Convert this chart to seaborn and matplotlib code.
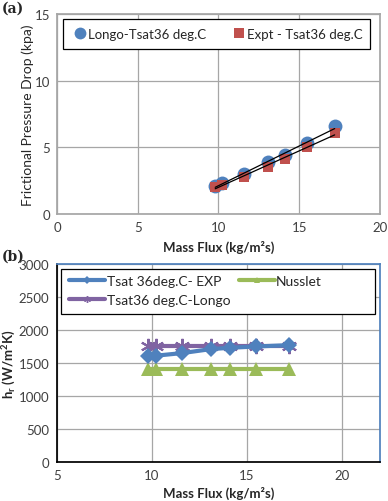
import numpy as np
import pandas as pd
import seaborn as sns
import matplotlib.pyplot as plt
from matplotlib.patches import Rectangle

# === Dati ===
mass_flux = [9.8, 10.2, 11.6, 13.1, 14.1, 15.5, 17.2]
dp_longo = [2.1, 2.3, 3.0, 3.9, 4.4, 5.3, 6.6]
dp_expt = [2.0, 2.2, 2.8, 3.5, 4.1, 5.0, 6.1]

h_exp = [1600, 1610, 1650, 1710, 1730, 1750, 1770]
h_nusselt = [1410, 1410, 1410, 1410, 1410, 1410, 1410]
h_longo = [1760, 1760, 1760, 1760, 1760, 1760, 1760]

blue = '#4f81bd'
red = '#c0504d'
green = '#9bbb59'
purple = '#8064a2'

sns.set_theme(style='white')
plt.rcParams['font.family'] = ['Lato', 'DejaVu Sans']

fig = plt.figure(figsize=(3.88, 5.02), dpi=100)
ax1 = fig.add_axes([0.147, 0.572, 0.832, 0.398])
ax2 = fig.add_axes([0.147, 0.078, 0.832, 0.394])

# === Pannello (a) ===
df_a = pd.DataFrame({'G': mass_flux, 'longo': dp_longo, 'expt': dp_expt})
sns.scatterplot(data=df_a, x='G', y='longo', ax=ax1, color=blue, s=100,
                marker='o', linewidth=0, zorder=3)
sns.scatterplot(data=df_a, x='G', y='expt', ax=ax1, color=red, s=60,
                marker='s', linewidth=0, zorder=4)

# trendline lineari
for col in ['longo', 'expt']:
    p = np.polyfit(df_a['G'], df_a[col], 1)
    xx = np.array([df_a['G'].min(), df_a['G'].max()])
    ax1.plot(xx, np.polyval(p, xx), color='black', lw=0.9, zorder=5)

ax1.set_xlim(0, 20)
ax1.set_ylim(0, 15)
ax1.set_xticks([0, 5, 10, 15, 20])
ax1.set_yticks([0, 5, 10, 15])
ax1.grid(True, color='#a6a6a6', lw=0.9)
for s in ax1.spines.values():
    s.set_color('#a6a6a6')
ax1.tick_params(labelsize=9.5, colors='#404040', length=0, pad=5)
ax1.set_xlabel('Mass Flux (kg/m²s)', fontsize=9.5, fontweight='bold')
ax1.xaxis.set_label_coords(0.5, -0.13)
ax1.set_ylabel('Frictional Pressure Drop (kpa)', fontsize=10)
ax1.yaxis.set_label_coords(-0.07, 0.5)

ax1.add_patch(Rectangle((0.019, 0.825), 0.95, 0.15, transform=ax1.transAxes,
                        facecolor='white', edgecolor='black', lw=0.9, zorder=6))
h1 = [plt.Line2D([], [], ls='none', marker='o', ms=8.5, color=blue, mew=0),
      plt.Line2D([], [], ls='none', marker='s', ms=7, color=red, mew=0)]
leg = ax1.legend(h1, ['Longo-Tsat36 deg.C', 'Expt - Tsat36 deg.C'],
                 loc='center', ncol=2, frameon=False, fontsize=9.5,
                 bbox_to_anchor=(0.5, 0.9), borderaxespad=0,
                 handlelength=0.9, handletextpad=0.15, columnspacing=2.0)
leg.set_zorder(7)

# === Pannello (b) ===
df_b = pd.DataFrame({'G': mass_flux, 'exp': h_exp, 'nus': h_nusselt, 'longo': h_longo})
sns.lineplot(data=df_b, x='G', y='nus', ax=ax2, color=green, lw=3, marker='^',
             markersize=10, markeredgewidth=0, zorder=3)
sns.lineplot(data=df_b, x='G', y='longo', ax=ax2, color=purple, lw=3, marker=(6, 2, 0),
             markersize=11, markeredgewidth=1.5, markeredgecolor=purple, zorder=3)
sns.lineplot(data=df_b, x='G', y='exp', ax=ax2, color=blue, lw=3, marker='D',
             markersize=8, markeredgewidth=0, zorder=4)

ax2.set_xlim(5, 22)
ax2.set_ylim(0, 3000)
ax2.set_xticks([5, 10, 15, 20])
ax2.set_yticks(np.arange(0, 3001, 500))
ax2.grid(True, color='#a6a6a6', lw=0.9)
ax2.spines['left'].set_color('black')
ax2.spines['bottom'].set_color('black')
ax2.spines['top'].set_color(blue)
ax2.spines['right'].set_color(blue)
ax2.tick_params(labelsize=9.5, colors='#404040', pad=3)
ax2.tick_params(axis='both', direction='inout', length=5, color='black', width=0.9)
ax2.set_xlabel('Mass Flux (kg/m²s)', fontsize=9.5, fontweight='bold')
ax2.xaxis.set_label_coords(0.5, -0.12)
ax2.set_ylabel('h$_\\mathregular{r}$ (W/m$^\\mathregular{2}$K)', fontsize=9.5,
               fontweight='bold')
ax2.yaxis.set_label_coords(-0.12, 0.5)

ax2.add_patch(Rectangle((0.012, 0.747), 0.973, 0.228, transform=ax2.transAxes,
                        facecolor='white', edgecolor='black', lw=0.9, zorder=6))
h2 = [plt.Line2D([], [], color=blue, lw=3, marker='D', ms=4, mew=0),
      plt.Line2D([], [], color=purple, lw=3, marker=(6, 2, 0), ms=5, mew=1, mec=purple),
      plt.Line2D([], [], color=green, lw=3, marker='^', ms=5, mew=0)]
leg2 = ax2.legend(h2, ['Tsat 36deg.C- EXP', 'Tsat36 deg.C-Longo', 'Nusslet'],
                  loc='upper left', ncol=2, frameon=False, fontsize=10,
                  bbox_to_anchor=(0.012, 0.985), borderaxespad=0.2,
                  handlelength=2.6, handletextpad=0.1, columnspacing=0.6,
                  labelspacing=0.5)
leg2.set_zorder(7)

fig.text(0.005, 0.975, '(a)', fontsize=10, fontweight='bold', family='DejaVu Serif')
fig.text(0.005, 0.48, '(b)', fontsize=10, fontweight='bold', family='DejaVu Serif')

fig.savefig('out.png', dpi=100)
